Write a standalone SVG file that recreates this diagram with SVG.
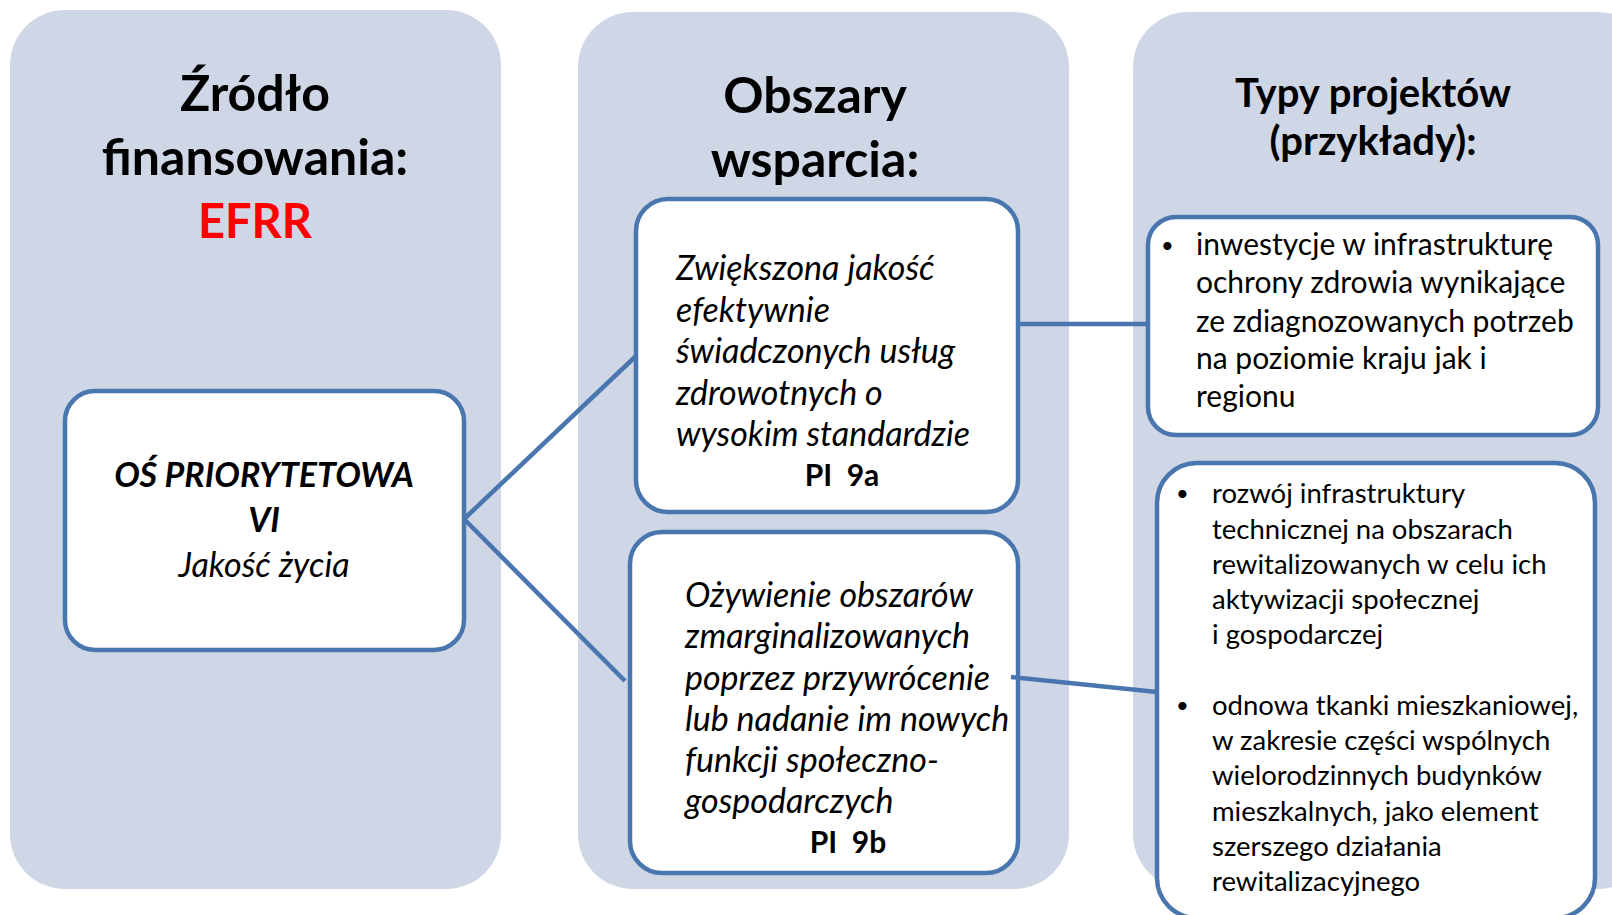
<svg xmlns="http://www.w3.org/2000/svg" width="1612" height="915" viewBox="0 0 1612 915">
<style>
.panel{fill:#CFD7E6;}
.box{fill:#FFFFFF;stroke:#4A76AF;stroke-width:4.5;}
.conn{stroke:#4A76AF;stroke-width:4.5;fill:none;}
.t{font-family:Lato,"Open Sans","Liberation Sans",sans-serif;fill:#000;}
.title{font-weight:bold;font-size:50px;text-anchor:middle;}
.title3{font-weight:bold;font-size:40px;text-anchor:middle;}
.it{font-style:italic;font-size:34px;}
.pi{font-weight:bold;font-size:30px;text-anchor:middle;}
.r1{font-size:30px;}
.r2{font-size:27.5px;}
.b{font-size:22px;}
</style>
<rect width="1612" height="915" fill="#FFFFFF"/>
<g id="panel-zrodlo">
<rect class="panel" x="10" y="10" width="491" height="879" rx="55"/>
<text class="t title" x="255" y="111">Źródło</text>
<text class="t title" x="255" y="175">finansowania:</text>
<text class="t title" x="255" y="238" style="fill:#FF0000;font-size:47px">EFRR</text>
</g>
<g id="panel-obszary">
<rect class="panel" x="578" y="12" width="491" height="877" rx="55"/>
<text class="t title" x="815" y="113">Obszary</text>
<text class="t title" x="815" y="177">wsparcia:</text>
</g>
<g id="panel-typy">
<rect class="panel" x="1133" y="12" width="520" height="877" rx="55"/>
<text class="t title3" x="1373" y="107">Typy projektów</text>
<text class="t title3" x="1373" y="155">(przykłady):</text>
</g>
<g id="node-os">
<rect class="box" x="65" y="391" width="399" height="259" rx="30"/>
<text class="t" x="264" y="487" text-anchor="middle" font-weight="bold" font-style="italic" font-size="34">OŚ PRIORYTETOWA</text>
<text class="t" x="264" y="532" text-anchor="middle" font-weight="bold" font-style="italic" font-size="34">VI</text>
<text class="t" x="264" y="577" text-anchor="middle" font-style="italic" font-size="34">Jakość życia</text>
</g>
<g id="node-9a">
<rect class="box" x="636" y="199" width="382" height="313" rx="32"/>
<text class="t it" x="676" y="280">Zwiększona jakość</text>
<text class="t it" x="676" y="322">efektywnie</text>
<text class="t it" x="676" y="363">świadczonych usług</text>
<text class="t it" x="676" y="405">zdrowotnych o</text>
<text class="t it" x="676" y="446">wysokim standardzie</text>
<text class="t pi" x="842" y="486" xml:space="preserve">PI  9a</text>
</g>
<g id="node-9b">
<rect class="box" x="630" y="532" width="388" height="341" rx="32"/>
<text class="t it" x="685" y="607">Ożywienie obszarów</text>
<text class="t it" x="685" y="648">zmarginalizowanych</text>
<text class="t it" x="685" y="690">poprzez przywrócenie</text>
<text class="t it" x="685" y="731">lub nadanie im nowych</text>
<text class="t it" x="685" y="772">funkcji społeczno-</text>
<text class="t it" x="685" y="813">gospodarczych</text>
<text class="t pi" x="848" y="853" xml:space="preserve">PI  9b</text>
</g>
<g id="node-inwestycje">
<rect class="box" x="1148" y="217" width="450" height="218" rx="28"/>
<text class="t b" x="1161" y="253">•</text>
<text class="t r1" x="1196" y="255">inwestycje w infrastrukturę</text>
<text class="t r1" x="1196" y="293">ochrony zdrowia wynikające</text>
<text class="t r1" x="1196" y="332">ze zdiagnozowanych potrzeb</text>
<text class="t r1" x="1196" y="369">na poziomie kraju jak i</text>
<text class="t r1" x="1196" y="407">regionu</text>
</g>
<g id="node-rewitalizacja">
<rect class="box" x="1157" y="463" width="438" height="455" rx="40"/>
<text class="t b" x="1176" y="501">•</text>
<text class="t r2" x="1212" y="503">rozwój infrastruktury</text>
<text class="t r2" x="1212" y="539">technicznej na obszarach</text>
<text class="t r2" x="1212" y="574">rewitalizowanych w celu ich</text>
<text class="t r2" x="1212" y="609">aktywizacji społecznej</text>
<text class="t r2" x="1212" y="644">i gospodarczej</text>
<text class="t b" x="1176" y="713">•</text>
<text class="t r2" x="1212" y="715">odnowa tkanki mieszkaniowej,</text>
<text class="t r2" x="1212" y="750">w zakresie części wspólnych</text>
<text class="t r2" x="1212" y="785">wielorodzinnych budynków</text>
<text class="t r2" x="1212" y="821">mieszkalnych, jako element</text>
<text class="t r2" x="1212" y="856">szerszego działania</text>
<text class="t r2" x="1212" y="891">rewitalizacyjnego</text>
</g>
<g id="connectors">
<line class="conn" x1="464" y1="519" x2="636" y2="356"/>
<line class="conn" x1="464" y1="519" x2="625" y2="681"/>
<line class="conn" x1="1018" y1="324" x2="1150" y2="324"/>
<line class="conn" x1="1011" y1="677" x2="1157" y2="692"/>
</g>
</svg>
